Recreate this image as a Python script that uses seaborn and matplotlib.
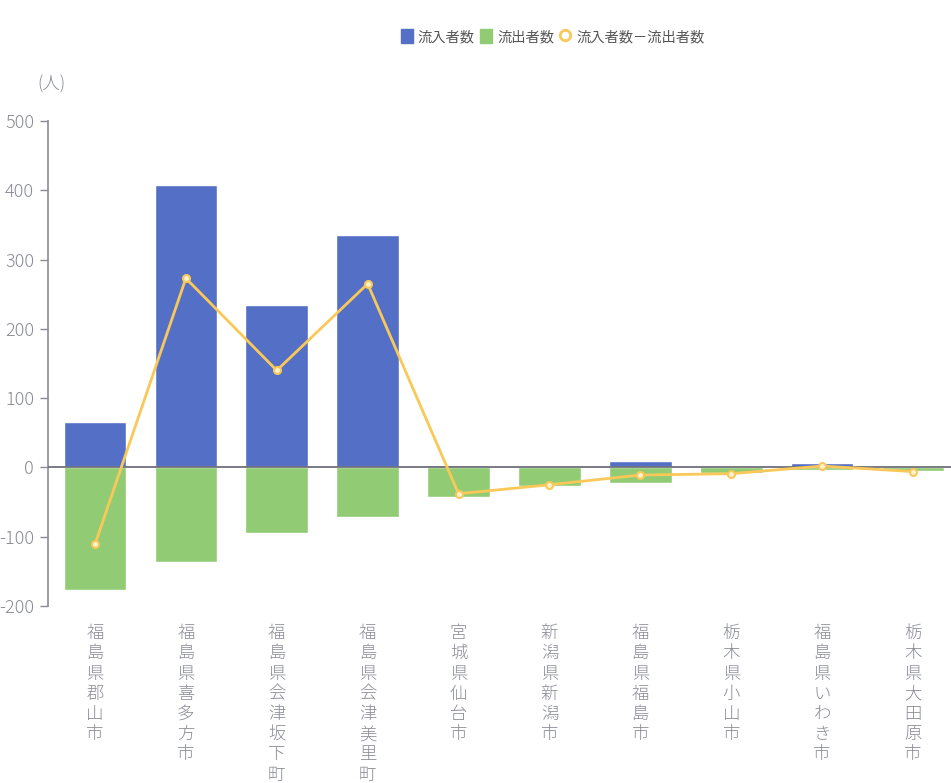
import matplotlib
matplotlib.use('Agg')
import matplotlib.pyplot as plt
import numpy as np
import pandas as pd
import seaborn as sns
from matplotlib.lines import Line2D
from matplotlib.patches import Patch

cities = ['福島県郡山市', '福島県喜多方市', '福島県会津坂下町', '福島県会津美里町', '宮城県仙台市',
          '新潟県新潟市', '福島県福島市', '栃木県小山市', '福島県いわき市', '栃木県大田原市']
inflow = [65, 408, 235, 335, 4, 2, 10, 0, 6, 0]
outflow = [-177, -136, -95, -71, -43, -27, -22, -8, -4, -5]
net = [-111, 273, 140, 265, -38, -25, -11, -9, 2, -6]

series_names = ['流入者数', '流出者数', '流入者数－流出者数']
yticks = [-200, -100, 0, 100, 200, 300, 400, 500]

BLUE = '#5470c6'
GREEN = '#91cc75'
YELLOW = '#fac858'
GRAY = '#8a8c94'

sns.set_style('white')
plt.rcParams['font.family'] = ['Noto Sans CJK JP', 'DejaVu Sans']

df = pd.DataFrame({'city': cities, 'inflow': inflow, 'outflow': outflow, 'net': net})

fig = plt.figure(figsize=(9.51, 7.83), dpi=100)
ax = fig.add_axes([48 / 951, 1 - 606 / 783, 1 - 48 / 951, (606 - 121) / 783])

sns.barplot(data=df, x='city', y='inflow', color=BLUE, saturation=1, width=0.69, ax=ax)
sns.barplot(data=df, x='city', y='outflow', color=GREEN, saturation=1, width=0.69, ax=ax)
ax.axhline(0, color='#6e7079', lw=1.3, zorder=3)
sns.pointplot(data=df, x='city', y='net', color=YELLOW, errorbar=None, markers='o',
              markersize=5, markerfacecolor='#fff3cf', markeredgewidth=1.5, linewidth=2.0, ax=ax)
for c in ax.collections + ax.lines[-1:]:
    c.set_zorder(5)

ax.set_xlim(-0.517, 9.418)
ax.set_ylim(-200, 500)
ax.set_yticks(yticks)
ax.set_yticklabels([str(v) for v in yticks], fontweight='light')
ax.set_xlabel('')
ax.set_ylabel('')
ax.set_xticks(range(len(cities)))
ax.set_xticklabels(['\n'.join(c) for c in cities], va='top', linespacing=1.16,
                   fontsize=12.5, color=GRAY, fontweight='light')
ax.tick_params(axis='x', length=0, pad=13)
ax.tick_params(axis='y', length=6, width=1, color=GRAY, labelcolor=GRAY, labelsize=13, pad=4, left=True)
for s in ['top', 'right', 'bottom']:
    ax.spines[s].set_visible(False)
ax.spines['left'].set_color(GRAY)
ax.spines['left'].set_linewidth(1.2)

fig.text(37 / 951, 1 - 84 / 783, '(人)', color=GRAY, fontsize=12.5, ha='left', va='center',
         fontweight='light')

handles = [Patch(facecolor=BLUE, edgecolor=BLUE),
           Patch(facecolor=GREEN, edgecolor=GREEN),
           Line2D([], [], color=YELLOW, marker='o', linestyle='none', markersize=7.5,
                  markerfacecolor='white', markeredgewidth=2)]
fig.legend(handles, series_names, loc='center', bbox_to_anchor=(0.581, 0.953), ncol=3,
           frameon=False, fontsize=10.3, handlelength=0.85, handleheight=1.1, handletextpad=0.35,
           columnspacing=0.35, labelcolor='#555555')

fig.savefig('out.png', dpi=100)
